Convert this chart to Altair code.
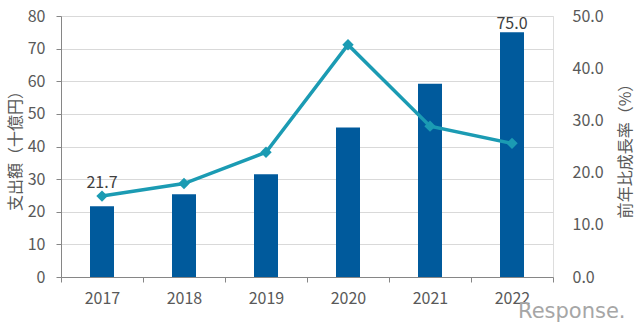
import altair as alt
import pandas as pd

years = ["2017", "2018", "2019", "2020", "2021", "2022"]
spend = [21.7, 25.4, 31.5, 45.8, 59.2, 75.0]
growth = [15.5, 17.9, 23.9, 44.5, 28.9, 25.6]
label_2017 = ["2017"]
label_2022 = ["2022"]

df = pd.DataFrame({"year": years, "spend": spend, "growth": growth})

FONT = "Noto Sans CJK JP"
LABEL = "#595959"
BAR = "#005A9C"
LINE = "#1B9BB3"

x = alt.X(
    "year:N",
    title=None,
    sort=years,
    scale=alt.Scale(paddingInner=0, paddingOuter=0),
    axis=alt.Axis(
        labelAngle=0, tickBand="extent", labelFont=FONT, labelFontSize=16,
        labelColor=LABEL, domainColor="#868686", tickColor="#868686",
        tickSize=5, labelPadding=8, grid=False,
    ),
)

y_left = alt.Y(
    "spend:Q",
    title="支出額（十億円）",
    scale=alt.Scale(domain=[0, 80], nice=False),
    axis=alt.Axis(
        values=list(range(0, 81, 10)), grid=True, gridColor="#d9d9d9",
        domainColor="#868686", tickColor="#868686", tickSize=5,
        labelPadding=11, labelFont=FONT, labelFontSize=16, labelColor=LABEL,
        titleFont=FONT, titleFontSize=16, titleColor=LABEL, titleFontWeight="normal",
        titlePadding=4,
    ),
)

base = alt.Chart(df)

bars = base.mark_bar(size=24, color=BAR).encode(x=x, y=y_left)

t2017 = base.transform_filter(alt.FieldOneOfPredicate(field="year", oneOf=label_2017)).mark_text(
    dy=-15, font=FONT, fontSize=16, color="#404040", baseline="bottom"
).encode(x=x, y=y_left, text=alt.Text("spend:Q", format=".1f"))

t2022 = base.transform_filter(alt.FieldOneOfPredicate(field="year", oneOf=label_2022)).mark_text(
    dy=0, font=FONT, fontSize=16, color="#404040", baseline="bottom"
).encode(x=x, y=y_left, text=alt.Text("spend:Q", format=".1f"))

left = alt.layer(bars, t2017, t2022)

line = base.mark_line(
    color=LINE, strokeWidth=3.5,
    point=alt.OverlayMarkDef(shape="diamond", size=130, color=LINE, filled=True, opacity=1),
).encode(
    x=x,
    y=alt.Y(
        "growth:Q",
        title="前年比成長率（%）",
        scale=alt.Scale(domain=[0, 50], nice=False),
        axis=alt.Axis(
            orient="right", values=list(range(0, 51, 10)), format=".1f", grid=False,
            ticks=False, tickSize=0, domain=False, labelPadding=19,
            labelFont=FONT, labelFontSize=16, labelColor=LABEL,
            titleFont=FONT, titleFontSize=16, titleColor=LABEL, titleFontWeight="normal",
            titleAngle=270, titleBaseline="top", titlePadding=14,
        ),
    ),
)

wm = alt.Chart(pd.DataFrame({"t": ["Response."]})).mark_text(
    font="DejaVu Sans", fontSize=21, color="#a6a6a6", align="left", baseline="middle"
).encode(x=alt.value(457), y=alt.value(296), text="t:N")

chart = alt.layer(left, line, wm).resolve_scale(y="independent").properties(
    width=492,
    height=261,
    padding={"left": 61, "top": 16, "right": 87, "bottom": 53},
    autosize=alt.AutoSizeParams(type="none"),
).configure_view(stroke="#bfbfbf", strokeWidth=1).configure(background="white")

chart.save("out.html", embed_options={"renderer": "svg", "actions": False})
